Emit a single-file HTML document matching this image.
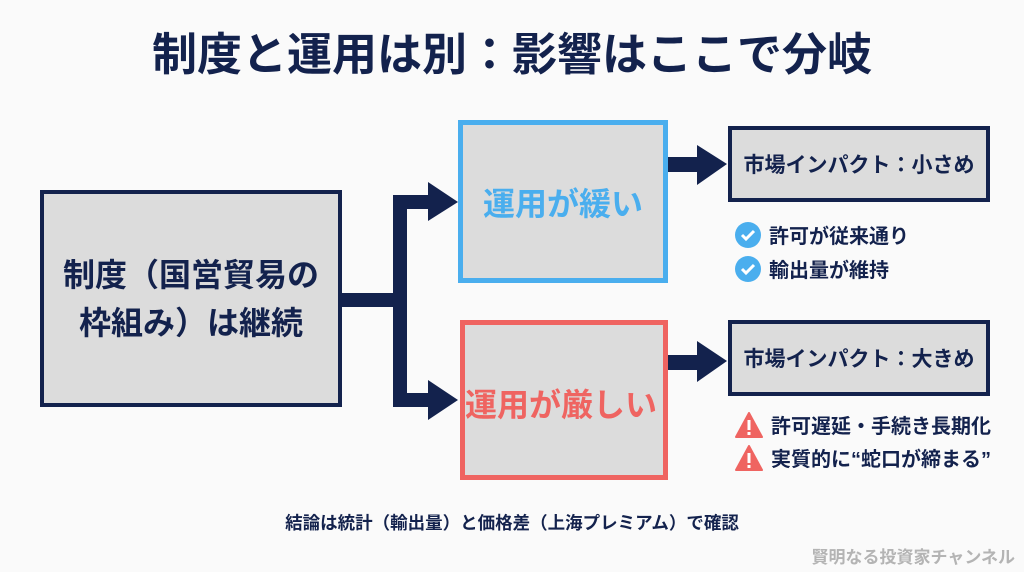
<!DOCTYPE html>
<html><head><meta charset="utf-8"><style>
body{margin:0;width:1024px;height:572px;background:#fafafa;position:relative;overflow:hidden;font-family:"Liberation Sans","Noto Sans CJK JP",sans-serif;font-weight:bold;color:#13224d}
.a{position:absolute}
.box{position:absolute;box-sizing:border-box;background:#dcdcdc;display:flex;align-items:center;justify-content:center;text-align:center}
.li{position:absolute;left:735px;font-size:20px;display:flex;align-items:center;gap:8px;color:#13224d}
</style></head><body>
<div class="a" style="left:0;width:1024px;top:27px;text-align:center;font-size:45px;line-height:56px;color:#13224d">制度と運用は別：影響はここで分岐</div>

<div class="box" style="left:40px;top:190px;width:302px;height:217px;border:4px solid #13224d;font-size:32px;line-height:48px">制度（国営貿易の<br>枠組み）は継続</div>
<div class="box" style="left:458px;top:120px;width:210px;height:163px;border:5px solid #4aaeee;color:#4aaeee;font-size:32px">運用が緩い</div>
<div class="box" style="left:460px;top:320px;width:208px;height:160px;border:5px solid #ef6461;color:#ef6461;font-size:32px;padding-top:6px;padding-right:6px">運用が厳しい</div>
<div class="box" style="left:728px;top:126px;width:262px;height:76px;border:4px solid #13224d;font-size:21px">市場インパクト：小さめ</div>
<div class="box" style="left:728px;top:320px;width:262px;height:76px;border:4px solid #13224d;font-size:21px">市場インパクト：大きめ</div>

<svg class="a" style="left:0;top:0" width="1024" height="572">
<g fill="#13224d">
<rect x="342" y="293" width="60" height="14"/>
<rect x="393" y="195" width="14" height="212"/>
<rect x="393" y="195" width="37" height="14"/>
<rect x="393" y="393" width="37" height="14"/>
<polygon points="428,182 458,202 428,221"/>
<polygon points="428,380 458,400 428,420"/>
<rect x="668" y="157" width="32" height="15"/>
<polygon points="697,145 727,164 697,185"/>
<rect x="668" y="355" width="32" height="15"/>
<polygon points="697,341 727,361 697,382"/>
</g>
</svg>

<div class="li" style="top:220px"><svg width="26" height="26"><circle cx="13" cy="13" r="13" fill="#4aaeee"/><path d="M7 13l4 4 8-8" stroke="#fff" stroke-width="3" fill="none"/></svg>許可が従来通り</div>
<div class="li" style="top:254px"><svg width="26" height="26"><circle cx="13" cy="13" r="13" fill="#4aaeee"/><path d="M7 13l4 4 8-8" stroke="#fff" stroke-width="3" fill="none"/></svg>輸出量が維持</div>
<div class="li" style="top:410px"><svg width="28" height="26"><polygon points="14,1 27,25 1,25" fill="#ef6461" stroke="#ef6461" stroke-linejoin="round" stroke-width="2"/><rect x="12.5" y="8" width="3" height="10" fill="#fff"/><rect x="12.5" y="20" width="3" height="3" fill="#fff"/></svg>許可遅延・手続き長期化</div>
<div class="li" style="top:443px"><svg width="28" height="26"><polygon points="14,1 27,25 1,25" fill="#ef6461" stroke="#ef6461" stroke-linejoin="round" stroke-width="2"/><rect x="12.5" y="8" width="3" height="10" fill="#fff"/><rect x="12.5" y="20" width="3" height="3" fill="#fff"/></svg>実質的に“蛇口が締まる”</div>

<div class="a" style="left:0;width:1024px;top:510px;text-align:center;font-size:17.5px">結論は統計（輸出量）と価格差（上海プレミアム）で確認</div>
<div class="a" style="right:9px;top:543px;font-size:17px;color:#b4b4b4">賢明なる投資家チャンネル</div>
</body></html>
